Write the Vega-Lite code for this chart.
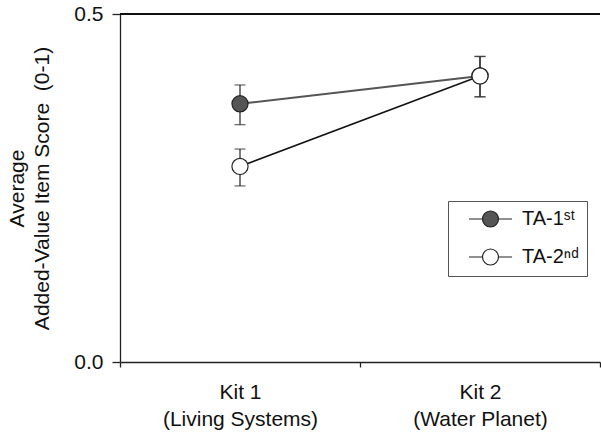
{
  "$schema": "https://vega.github.io/schema/vega-lite/v6.json",
  "width": 480,
  "height": 348,
  "autosize": "none",
  "padding": {"left": 120, "top": 14, "right": 1, "bottom": 71},
  "background": "white",
  "config": {
    "view": {"stroke": null},
    "font": "Liberation Sans",
    "axis": {"domainColor": "#222", "tickColor": "#222", "labelColor": "#111", "titleColor": "#111", "labelFont": "Liberation Sans", "titleFont": "Liberation Sans", "labelFontSize": 21, "titleFontSize": 21, "titleFontWeight": "normal", "grid": false, "domainWidth": 1.3, "tickWidth": 1.3}
  },
  "data": {
    "values": [
      {"kit": "Kit 1|(Living Systems)", "series": "TA-1", "mean": 0.371, "lo": 0.341, "hi": 0.398},
      {"kit": "Kit 2|(Water Planet)", "series": "TA-1", "mean": 0.411, "lo": 0.381, "hi": 0.439},
      {"kit": "Kit 1|(Living Systems)", "series": "TA-2", "mean": 0.281, "lo": 0.253, "hi": 0.306},
      {"kit": "Kit 2|(Water Planet)", "series": "TA-2", "mean": 0.411, "lo": 0.381, "hi": 0.439}
    ]
  },
  "encoding": {
    "x": {
      "field": "kit", "type": "nominal",
      "scale": {"type": "band", "paddingInner": 0, "paddingOuter": 0},
      "axis": {"title": null, "labelAngle": 0, "tickBand": "extent", "tickSize": 5, "labelPadding": 14, "labelExpr": "split(datum.label, '|')", "labelLineHeight": 27, "labelBaseline": "top", "labelFontSize": 21}
    }
  },
  "layer": [
    {
      "mark": {"type": "rule", "color": "#111", "strokeWidth": 1.3},
      "encoding": {"x": null, "y": {"datum": 0.5, "type": "quantitative"}}
    },
    {
      "transform": [{"filter": "datum.series == 'TA-1'"}],
      "mark": {"type": "line", "color": "#555", "strokeWidth": 2},
      "encoding": {
        "y": {"field": "mean", "type": "quantitative", "scale": {"domain": [0, 0.5]},
          "axis": {"values": [0, 0.5], "format": ".1f", "tickSize": 8, "labelPadding": 9, "labelFontSize": 21, "title": ["Average", "Added-Value Item Score\u00a0 (0-1)"], "titleFontSize": 21, "titlePadding": 21, "titleLineHeight": 25}}
      }
    },
    {
      "transform": [{"filter": "datum.series == 'TA-2'"}],
      "mark": {"type": "line", "color": "#111", "strokeWidth": 1.5},
      "encoding": {"y": {"field": "mean", "type": "quantitative"}}
    },
    {
      "mark": {"type": "rule", "color": "#333", "strokeWidth": 1.3},
      "encoding": {"y": {"field": "lo", "type": "quantitative"}, "y2": {"field": "hi"}}
    },
    {
      "mark": {"type": "tick", "color": "#333", "size": 11, "thickness": 1.3},
      "encoding": {"y": {"field": "lo", "type": "quantitative"}}
    },
    {
      "mark": {"type": "tick", "color": "#333", "size": 11, "thickness": 1.3},
      "encoding": {"y": {"field": "hi", "type": "quantitative"}}
    },
    {
      "mark": {"type": "point", "shape": "circle", "filled": true, "size": 260, "stroke": "#222", "strokeWidth": 1.2, "opacity": 1},
      "encoding": {
        "y": {"field": "mean", "type": "quantitative"},
        "fill": {
          "field": "series", "type": "nominal",
          "scale": {"domain": ["TA-1", "TA-2"], "range": ["#555555", "#ffffff"]},
          "legend": {
            "title": null, "orient": "none", "legendX": 328, "legendY": 187,
            "padding": 8, "strokeColor": "#555", "fillColor": "white",
            "symbolType": "M0.375,0H2.06 M4.06,0H5.75 M2.06,0A1,1 0 1,1 4.06,0A1,1 0 1,1 2.06,0Z",
            "symbolSize": 256, "symbolStrokeColor": "#222", "symbolStrokeWidth": 1.2, "symbolOpacity": 1,
            "labelFont": "Liberation Sans", "labelFontSize": 20, "labelColor": "#111", "labelOffset": 46,
            "labelExpr": "datum.label == 'TA-1' ? 'TA-1ˢᵗ    ' : 'TA-2ⁿᵈ    '",
            "rowPadding": 16
          }
        }
      }
    }
  ]
}
